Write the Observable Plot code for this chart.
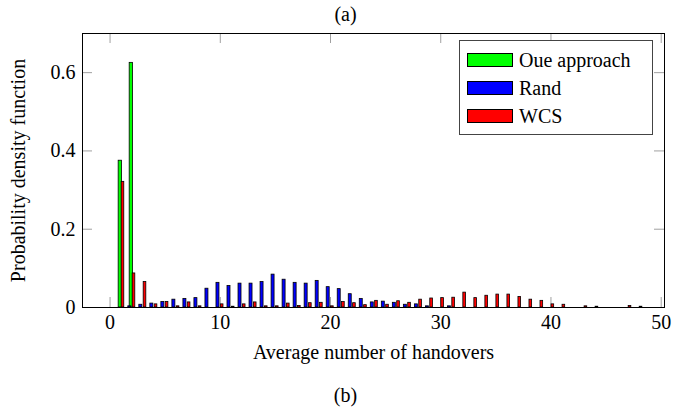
<!DOCTYPE html>
<html><head><meta charset="utf-8">
<script src="https://cdn.jsdelivr.net/npm/d3@7"></script>
<script src="https://cdn.jsdelivr.net/npm/@observablehq/plot@0.6"></script>
<style>
body{margin:0;background:#fff;font-family:"Liberation Serif","Times New Roman",serif;}
#wrap{position:relative;width:691px;height:412px;overflow:hidden;}
.cap{position:absolute;left:0;width:691px;text-align:center;font-size:20px;line-height:24px;color:#000;}
#legend{position:absolute;left:459px;top:40px;width:192px;height:93px;border:1px solid #444;background:#fff;}
.row{position:absolute;left:7px;height:16px;font-size:20px;line-height:16px;white-space:nowrap;}
.sw{display:inline-block;width:44px;height:12px;border:1px solid #000;vertical-align:top;margin-top:1px;margin-right:6px;}
</style></head><body>
<div id="wrap">
  <div class="cap" style="top:2px">(a)</div>
  <div id="chart" style="position:absolute;top:26px;left:0"></div>
  <div class="cap" style="top:383px">(b)</div>
  <div id="legend"></div>
</div>
<script>
// ---- data ----
const handovers = [1,2,3,4,5,6,7,8,9,10,11,12,13,14,15,16,17,18,19,20,21,22,23,24,25,26,27,28,29,30,31,32,33,34,35,36,37,38,39,40,41,42,43,44,45,46,47,48,49];
const oueValues = [0.375,0.625,0,0,0,0,0,0,0,0,0,0,0,0,0,0,0,0,0,0,0,0,0,0,0,0,0,0,0,0,0,0,0,0,0,0,0,0,0,0,0,0,0,0,0,0,0,0,0];
const randValues = [0,0.003,0.007,0.01,0.014,0.02,0.022,0.024,0.048,0.063,0.055,0.061,0.061,0.065,0.084,0.071,0.063,0.061,0.068,0.052,0.047,0.034,0.022,0.013,0.015,0.012,0.007,0.008,0.003,0,0.003,0,0,0,0,0,0,0,0,0,0,0,0,0,0,0,0,0,0];
const wcsValues = [0.321,0.087,0.065,0.008,0.014,0.003,0.013,0.003,0,0.008,0.002,0.008,0.013,0.003,0.003,0.01,0.004,0.011,0.012,0.003,0.014,0.011,0.006,0.017,0.007,0.016,0.012,0.02,0.023,0.024,0.025,0.038,0.024,0.03,0.033,0.033,0.027,0.02,0.017,0.008,0.007,0,0.003,0.002,0,0,0.004,0.002,0];
const seriesNames = ["Oue approach","Rand","WCS"];
const seriesColors = ["#00ff00","#0000ff","#ff0000"];
const xTicks = [0,10,20,30,40,50];
const yTicks = [0,0.2,0.4,0.6];
const xLabel = "Average number of handovers";
const yLabel = "Probability density function";

// ---- styling / layout ----
const W = 691, H = 350, mL = 82, mR = 27, mT = 7, mB = 69;
const frameW = W - mL - mR, frameH = H - mT - mB;
const tickLen = 10;
// bar offset & width per series (in x units)
const barOff = [-0.07, -0.21, 0.17];
const barW = [0.30, 0.27, 0.24];

const allValues = [oueValues, randValues, wcsValues];
const rows = [];
allValues.forEach((vals, s) => vals.forEach((v, i) => {
  rows.push({series: seriesNames[s], s, x: handovers[i], v});
}));

const font = '"Liberation Serif","Times New Roman",serif';
const plot = Plot.plot({
  width: W, height: H,
  marginLeft: mL, marginRight: mR, marginTop: mT, marginBottom: mB,
  style: {fontFamily: font, fontSize: "20px", background: "#fff", color: "#000", overflow: "visible"},
  x: {domain: [-2.5, 50.3], axis: null},
  y: {domain: [0, 0.70], axis: null},
  color: {domain: seriesNames, range: seriesColors},
  marks: [
    // inward tick marks (gray)
    Plot.tickX(xTicks, {x: d => d, insetTop: frameH - tickLen, stroke: "#a0a0a0", strokeWidth: 1}),
    Plot.tickX(xTicks, {x: d => d, insetBottom: frameH - tickLen, stroke: "#a0a0a0", strokeWidth: 1}),
    Plot.tickY(yTicks, {y: d => d, insetRight: frameW - tickLen, stroke: "#a0a0a0", strokeWidth: 1}),
    Plot.tickY(yTicks, {y: d => d, insetLeft: frameW - tickLen, stroke: "#a0a0a0", strokeWidth: 1}),
    // bars
    Plot.rectY(rows.filter(d => d.v > 0), {
      x1: d => d.x + barOff[d.s] - barW[d.s] / 2,
      x2: d => d.x + barOff[d.s] + barW[d.s] / 2,
      y1: 0, y2: "v",
      fill: "series", stroke: "#000", strokeWidth: 0.8
    }),
    Plot.frame({stroke: "#000", strokeWidth: 1}),
    // tick labels
    Plot.text(xTicks, {x: d => d, frameAnchor: "bottom", dy: 15, textAnchor: "middle", lineAnchor: "middle", text: d => String(d), fontSize: 20}),
    Plot.text(yTicks, {y: d => d, frameAnchor: "left", dx: -7, textAnchor: "end", lineAnchor: "middle", text: d => String(d), fontSize: 20}),
    // axis labels
    Plot.text([xLabel], {frameAnchor: "bottom", dy: 45, textAnchor: "middle", lineAnchor: "middle", text: d => d, fontSize: 20}),
    Plot.text([yLabel], {frameAnchor: "left", dx: -64, rotate: -90, textAnchor: "middle", lineAnchor: "middle", text: d => d, fontSize: 20})
  ]
});
document.getElementById("chart").appendChild(plot);

// legend
const lg = document.getElementById("legend");
const rowTops = [11, 39, 67];
seriesNames.forEach((name, i) => {
  const r = document.createElement("div");
  r.className = "row";
  r.style.top = rowTops[i] + "px";
  const sw = document.createElement("span");
  sw.className = "sw";
  sw.style.background = seriesColors[i];
  r.appendChild(sw);
  r.appendChild(document.createTextNode(name));
  lg.appendChild(r);
});
</script>
</body></html>
